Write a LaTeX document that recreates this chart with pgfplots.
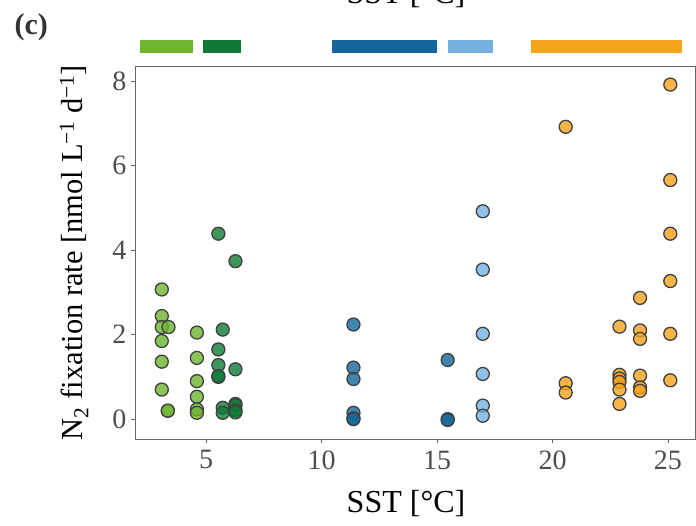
\documentclass[border=0pt]{standalone}
\usepackage{pgfplots}
\pgfplotsset{compat=1.18}
\usepackage{fontspec}
\setmainfont{Liberation Serif}
\definecolor{lgreen}{HTML}{6DB52F}
\definecolor{dgreen}{HTML}{0E7A36}
\definecolor{dblue}{HTML}{14679D}
\definecolor{lblue}{HTML}{75B2E2}
\definecolor{orng}{HTML}{F5A31C}
\definecolor{axgray}{HTML}{666666}
\definecolor{txtgray}{HTML}{4D4D4D}
\pgfplotsset{pts/.style={only marks, mark=*, mark size=6.5pt,
     mark options={draw=black!75, line width=1.3pt, fill opacity=0.8, fill=#1}}}
\begin{document}
\begin{tikzpicture}
\useasboundingbox (0pt,0pt) rectangle (696pt,525pt);
\begin{axis}[
  at={(135pt,86pt)}, anchor=south west,
  scale only axis, width=560pt, height=373pt,
  xmin=1.92, xmax=26.17, ymin=-0.47, ymax=8.36,
  xtick={5,10,15,20,25}, ytick={0,2,4,6,8},
  tick pos=left, tick align=outside,
  major tick length=4pt,
  axis line style={axgray, line width=0.8pt},
  every tick/.style={axgray, line width=0.8pt},
  tick label style={font=\fontsize{28}{32}\selectfont, text=txtgray},
  /pgf/number format/assume math mode=true,
  xticklabel style={yshift=-4pt},
  yticklabel style={xshift=-1pt},
  xlabel={SST [°C]},
  ylabel={N\textsubscript{2} fixation rate [nmol L\textsuperscript{−1} d\textsuperscript{−1}]},
  xlabel style={font=\fontsize{32}{36}\selectfont, at={(axis description cs:0.484,-0.196)}, anchor=base},
  ylabel style={font=\fontsize{30.5}{36}\selectfont, at={(axis description cs:-0.093,0.5)}, anchor=base},
  clip=false,
]
% region bars
\addplot[fill=lgreen, draw=none] coordinates {(2.14,8.66) (4.44,8.66) (4.44,8.97) (2.14,8.97)} --cycle;
\addplot[fill=dgreen, draw=none] coordinates {(4.87,8.66) (6.52,8.66) (6.52,8.97) (4.87,8.97)} --cycle;
\addplot[fill=dblue, draw=none] coordinates {(10.45,8.66) (15.0,8.66) (15.0,8.97) (10.45,8.97)} --cycle;
\addplot[fill=lblue, draw=none] coordinates {(15.48,8.66) (17.42,8.66) (17.42,8.97) (15.48,8.97)} --cycle;
\addplot[fill=orng, draw=none] coordinates {(19.07,8.66) (25.6,8.66) (25.6,8.97) (19.07,8.97)} --cycle;
% light green
\addplot[pts=lgreen] coordinates {
(3.08,3.07) (3.08,2.44) (3.08,2.18) (3.37,2.18) (3.08,1.85) (3.08,1.36) (3.08,0.70)
(3.34,0.20) (3.34,0.20)
(4.6,2.05) (4.6,1.45) (4.6,0.90) (4.6,0.53) (4.6,0.23) (4.6,0.15)};
% dark green
\addplot[pts=dgreen] coordinates {
(5.53,4.39) (5.53,1.65) (5.53,1.28) (5.53,1.0) (5.53,1.02)
(5.72,2.12) (5.72,0.27) (5.72,0.15)
(6.27,3.74) (6.27,1.18) (6.27,0.36) (6.27,0.33) (6.27,0.21) (6.27,0.16)};
% blue
\addplot[pts=dblue] coordinates {
(11.38,2.24) (11.38,1.22) (11.38,0.95) (11.38,0.15) (11.38,0.02) (11.38,0.0)
(15.46,1.40) (15.46,0.0) (15.46,-0.02)};
% light blue
\addplot[pts=lblue] coordinates {
(16.98,4.92) (16.98,3.54) (16.98,2.02) (16.98,1.07) (16.98,0.32) (16.98,0.08)};
% orange
\addplot[pts=orng] coordinates {
(20.57,6.92) (20.57,0.85) (20.57,0.63)
(22.9,2.19) (22.9,1.05) (22.9,0.96) (22.9,0.88) (22.9,0.70) (22.9,0.36)
(23.79,2.87) (23.79,2.10) (23.79,1.90) (23.79,1.03) (23.79,0.75) (23.79,0.67)
(25.1,7.92) (25.1,5.66) (25.1,4.39) (25.1,3.27) (25.1,2.02) (25.1,0.92)};
\end{axis}
\node[anchor=base west, font=\fontsize{30}{34}\selectfont\bfseries, text=black!80] at (11pt,490pt) {(c)};
\node[anchor=base, font=\fontsize{32}{36}\selectfont] at (406pt,521pt) {SST [°C]};
\end{tikzpicture}
\end{document}
